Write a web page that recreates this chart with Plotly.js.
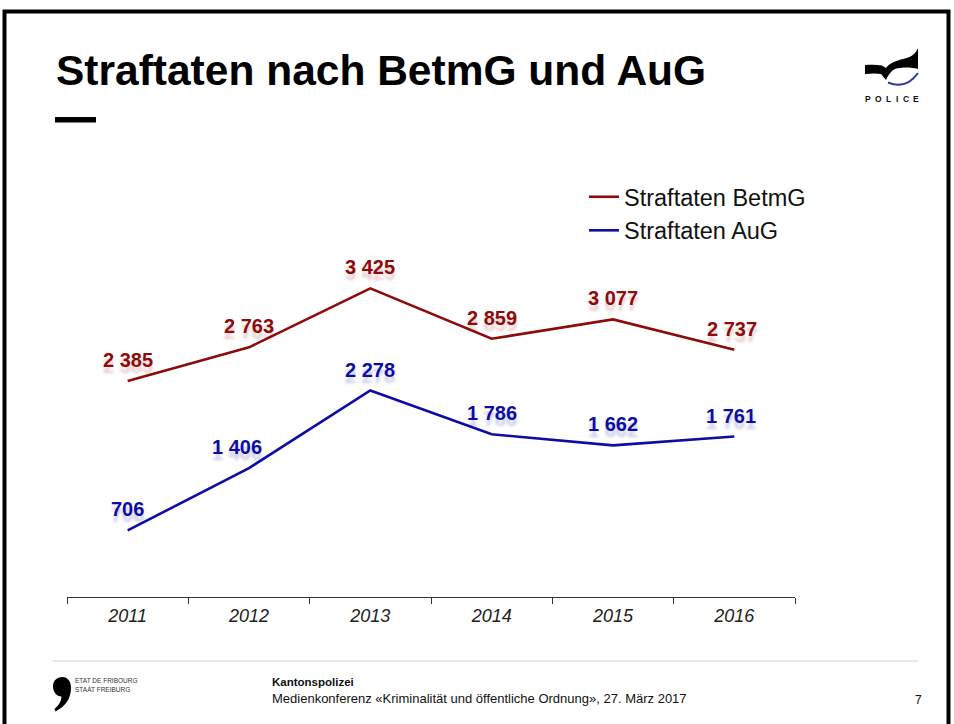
<!DOCTYPE html>
<html>
<head>
<meta charset="utf-8">
<script src="https://cdn.plot.ly/plotly-3.0.1.min.js"></script>
<style>
  html, body { margin: 0; padding: 0; background: #fff; overflow: hidden; }
  #chart { width: 954px; height: 724px; }
</style>
</head>
<body>
<div id="chart"></div>
<script>
// ---- data ----
const years = ['2011', '2012', '2013', '2014', '2015', '2016'];
const betmgValues = [2385, 2763, 3425, 2859, 3077, 2737];
const augValues = [706, 1406, 2278, 1786, 1662, 1761];
const seriesNames = ['Straftaten BetmG', 'Straftaten AuG'];
const chartTitle = 'Straftaten nach BetmG und AuG';

// ---- style ----
const RED = '#8E0B0B';
const BLUE = '#0D0DA5';
const FONT = 'Liberation Sans, Arial, Helvetica, sans-serif';
const betmgLabelShift = [0, 0, 0, 0, 0, -2];
const augLabelShift = [0, -12, 0, 0, 0, -3];

// plot area in pixels
const L = 67, R = 795, T = 239, B = 597;
const X = px => (px - L) / (R - L);
const Y = py => (B - py) / (B - T);

function toPaper(d) {
  const tokens = d.match(/[A-Za-z]|-?\d*\.?\d+/g);
  const out = [];
  let pend = null;
  for (const t of tokens) {
    if (/[A-Za-z]/.test(t)) { out.push(t); pend = null; }
    else if (pend === null) { pend = +t; }
    else { out.push(X(pend).toFixed(5) + ',' + Y(+t).toFixed(5)); pend = null; }
  }
  return out.join(' ');
}

const fmt = n => String(n).replace(/\B(?=(\d{3})+(?!\d))/g, ' ');

const traces = [
  {
    x: years, y: betmgValues, type: 'scatter', mode: 'lines',
    name: seriesNames[0], legendgroup: 'a',
    line: { color: RED, width: 2.6 }
  },
  {
    x: years, y: augValues, type: 'scatter', mode: 'lines',
    name: seriesNames[1], legendgroup: 'b',
    line: { color: BLUE, width: 2.6 }
  }
];

const annotations = [];
function addLabels(vals, color, shifts, shadow) {
  vals.forEach((v, i) => {
    annotations.push({
      x: i, y: v, xref: 'x', yref: 'y',
      text: '<b>' + fmt(v) + '</b>', showarrow: false,
      xanchor: 'center', yanchor: 'middle',
      yshift: 21, xshift: shifts[i],
      font: { family: FONT, size: 20, color: color, shadow: shadow }
    });
  });
}
addLabels(betmgValues, RED, betmgLabelShift, '0px 6px 3px rgba(142,11,11,0.22)');
addLabels(augValues, BLUE, augLabelShift, '0px 6px 3px rgba(13,13,165,0.22)');

// title
annotations.push({
  xref: 'paper', yref: 'paper', x: X(53.5), y: Y(70),
  xanchor: 'left', yanchor: 'middle', showarrow: false,
  text: '<b>' + chartTitle + '</b>',
  font: { family: FONT, size: 42.5, color: '#000' }
});

// POLICE letters
const policeLetters = ['P', 'O', 'L', 'I', 'C', 'E'];
const policeX = [868, 878.5, 888, 897, 906.5, 916];
policeLetters.forEach((c, i) => {
  annotations.push({
    xref: 'paper', yref: 'paper', x: X(policeX[i]), y: Y(98.5),
    xanchor: 'center', yanchor: 'middle', showarrow: false,
    text: '<b>' + c + '</b>', font: { family: FONT, size: 8.5, color: '#111' }
  });
});

// footer texts
annotations.push(
  { xref: 'paper', yref: 'paper', x: X(73), y: Y(680.5), xanchor: 'left', yanchor: 'middle',
    showarrow: false, text: 'ETAT DE FRIBOURG', font: { family: FONT, size: 6.5, color: '#333' } },
  { xref: 'paper', yref: 'paper', x: X(73), y: Y(689.5), xanchor: 'left', yanchor: 'middle',
    showarrow: false, text: 'STAAT FREIBURG', font: { family: FONT, size: 6.5, color: '#333' } },
  { xref: 'paper', yref: 'paper', x: X(270), y: Y(682), xanchor: 'left', yanchor: 'middle',
    showarrow: false, text: '<b>Kantonspolizei</b>', font: { family: FONT, size: 11.5, color: '#111' } },
  { xref: 'paper', yref: 'paper', x: X(270), y: Y(698), xanchor: 'left', yanchor: 'middle',
    showarrow: false, text: 'Medienkonferenz «Kriminalität und öffentliche Ordnung», 27. März 2017',
    font: { family: FONT, size: 13, color: '#111' } },
  { xref: 'paper', yref: 'paper', x: X(918), y: Y(700), xanchor: 'center', yanchor: 'middle',
    showarrow: false, text: '7', font: { family: FONT, size: 12, color: '#111' } }
);

const shapes = [
  // slide frame
  { type: 'rect', xref: 'paper', yref: 'paper', x0: X(4.5), x1: X(948.5), y0: Y(760), y1: Y(11.5),
    line: { color: '#000', width: 4 }, fillcolor: 'rgba(0,0,0,0)' },
  // title dash
  { type: 'rect', xref: 'paper', yref: 'paper', x0: X(55), x1: X(96), y0: Y(122.5), y1: Y(117),
    line: { width: 0 }, fillcolor: '#000' },
  // footer rule
  { type: 'line', xref: 'paper', yref: 'paper', x0: X(52), x1: X(918), y0: Y(661), y1: Y(661),
    line: { color: '#d4d4d4', width: 1 } },
  // comma logo
  { type: 'path', xref: 'paper', yref: 'paper', fillcolor: '#000', line: { width: 0 },
    path: toPaper('M 53 686 C 53 680 58 677 62.5 677 C 67.5 677 71 681 71 688 C 71 698 66 706 55.5 711.5 L 54.5 709 C 59 705 61.5 701 61.5 696.5 C 56.5 696.5 53 692 53 686 Z') },
  // police wave
  { type: 'path', xref: 'paper', yref: 'paper', fillcolor: '#000', line: { width: 0 },
    path: toPaper('M 865 65 C 871 64.5 877 64.5 882 65.5 L 886 68 C 890 62 899 60 907 58 C 912 56.5 916 53 918 48 L 918 69 C 911 67 902 67 895 69 C 891 71 888 75 886 80 L 881 74 C 876 73 870 73.5 865 74 Z') },
  // police blue arc
  { type: 'path', xref: 'paper', yref: 'paper', line: { color: '#2A3A9E', width: 2 },
    path: toPaper('M 888 82.5 Q 906 90 918 73') }
];

const layout = {
  width: 954, height: 724,
  margin: { l: L, r: 954 - R, t: T, b: 724 - B, pad: 0 },
  paper_bgcolor: '#fff', plot_bgcolor: '#fff',
  font: { family: FONT, color: '#000' },
  showlegend: true,
  legend: {
    x: X(584), y: Y(175), xanchor: 'left', yanchor: 'top',
    bgcolor: 'rgba(0,0,0,0)', borderwidth: 0,
    font: { family: FONT, size: 23.5, color: '#111' },
    traceorder: 'grouped', tracegroupgap: 0, itemwidth: 30
  },
  xaxis: {
    type: 'category', range: [-0.5, 5.5], fixedrange: true,
    showline: true, linecolor: '#333', linewidth: 1,
    ticks: 'outside', tickson: 'boundaries', ticklen: 6, tickcolor: '#333', tickwidth: 1,
    showgrid: false, zeroline: false, ticklabelstandoff: 2,
    tickfont: { family: FONT, size: 18, style: 'italic', color: '#222' }
  },
  yaxis: {
    range: [-42, 3980], visible: false, showgrid: false, zeroline: false, fixedrange: true
  },
  annotations: annotations,
  shapes: shapes
};

Plotly.newPlot('chart', traces, layout, { displayModeBar: false, staticPlot: true });
</script>
</body>
</html>
